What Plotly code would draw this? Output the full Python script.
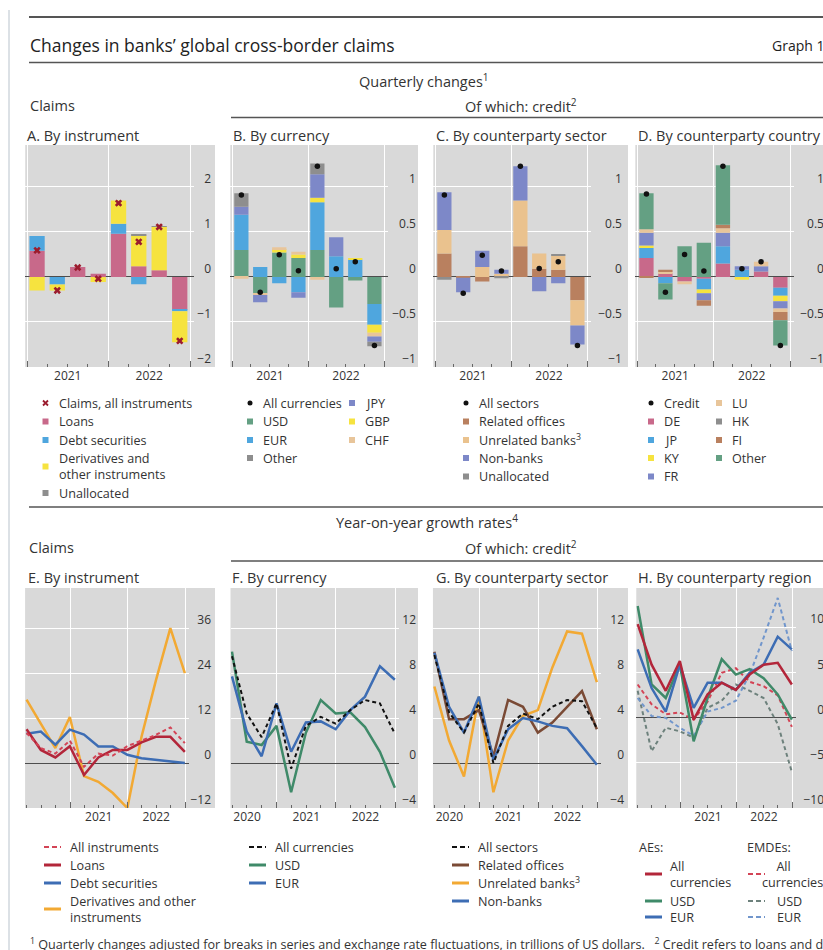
import math
import pandas as pd
import plotly.graph_objects as go

W, H = 823, 950

# ---------------- periods ----------------
bar_quarters = ["2021Q1", "2021Q2", "2021Q3", "2021Q4",
                "2022Q1", "2022Q2", "2022Q3", "2022Q4"]
line_quarters = ["2020Q1", "2020Q2", "2020Q3", "2020Q4",
                 "2021Q1", "2021Q2", "2021Q3", "2021Q4",
                 "2022Q1", "2022Q2", "2022Q3", "2022Q4"]

# ---------------- A. Claims by instrument (USD trn, quarterly change) ----------------
a_loans = [0.58, 0.00, 0.22, 0.07, 0.96, 0.24, 0.15, -0.73]
a_debt = [0.33, -0.17, 0.00, 0.00, 0.22, -0.16, 0.00, -0.03]
a_deriv = [-0.30, -0.13, 0.00, -0.11, 0.52, 0.69, 0.96, -0.69]
a_unalloc = [0.00, 0.00, 0.00, 0.00, 0.00, 0.015, 0.015, 0.00]
a_claims = [0.59, -0.30, 0.21, -0.04, 1.64, 0.78, 1.11, -1.42]

# ---------------- B. Credit by currency ----------------
b_usd = [0.30, -0.18, 0.27, 0.21, 0.30, -0.34, -0.04, -0.30]
b_eur = [0.39, 0.11, -0.07, -0.17, 0.53, 0.23, 0.19, -0.23]
b_gbp = [0.00, 0.00, 0.04, 0.04, 0.05, 0.00, 0.02, -0.09]
b_chf = [-0.02, -0.02, 0.02, 0.03, -0.03, 0.00, 0.00, -0.04]
b_jpy = [0.09, -0.08, 0.00, -0.06, 0.26, 0.21, 0.00, -0.06]
b_other = [0.15, 0.00, 0.00, 0.00, 0.12, 0.00, 0.00, -0.05]
b_all = [0.91, -0.17, 0.245, 0.07, 1.23, 0.09, 0.17, -0.76]

# ---------------- C. Credit by counterparty sector ----------------
c_related = [0.26, -0.01, -0.05, 0.02, 0.34, 0.09, 0.08, -0.26]
c_unrelated = [0.26, 0.00, 0.11, 0.015, 0.51, 0.17, 0.16, -0.28]
c_nonbanks = [0.42, -0.16, 0.18, 0.045, 0.38, -0.16, -0.07, -0.21]
c_unalloc = [-0.03, 0.00, 0.00, -0.015, 0.00, 0.00, 0.01, 0.00]
c_all = [0.91, -0.18, 0.24, 0.065, 1.23, 0.095, 0.17, -0.76]

# ---------------- D. Credit by counterparty country ----------------
d_de = [0.21, 0.04, -0.05, -0.02, 0.15, 0.00, 0.06, -0.12]
d_jp = [0.11, -0.07, 0.00, -0.12, 0.19, 0.08, 0.00, -0.09]
d_ky = [0.03, 0.00, 0.00, -0.04, 0.00, -0.03, 0.00, -0.06]
d_fr = [0.14, 0.00, 0.00, -0.08, 0.15, 0.04, 0.06, -0.08]
d_lu = [0.04, 0.02, -0.03, 0.00, 0.05, 0.00, 0.05, -0.04]
d_hk = [0.00, 0.00, 0.00, 0.00, 0.00, 0.00, 0.00, 0.00]
d_fi = [-0.01, 0.02, 0.00, -0.06, 0.04, 0.00, 0.00, -0.09]
d_other = [0.40, -0.18, 0.34, 0.38, 0.66, 0.00, 0.00, -0.28]
d_credit = [0.92, -0.17, 0.25, 0.065, 1.23, 0.09, 0.17, -0.76]

# ---------------- E. Claims by instrument, yoy growth (%) ----------------
e_all = [8.0, 4.0, 2.5, 6.0, -1.0, 2.5, 2.0, 4.5, 6.0, 7.5, 9.5, 5.3]
e_loans = [9.0, 3.5, 1.5, 4.5, -3.2, 1.5, 3.5, 3.5, 5.5, 7.0, 7.0, 3.0]
e_debt = [7.8, 8.4, 4.9, 8.9, 7.6, 4.4, 4.4, 2.2, 1.3, 0.9, 0.4, 0.0]
e_deriv = [16.9, 10.5, 4.0, 12.3, -3.5, -5.0, -8.0, -12.0, 7.0, 22.0, 36.0, 24.0]

# ---------------- F. Credit by currency, yoy growth (%) ----------------
f_all = [9.5, 4.4, 2.3, 5.3, -0.5, 3.3, 4.1, 3.5, 4.7, 5.6, 5.3, 2.6]
f_usd = [9.9, 1.9, 1.6, 3.3, -2.6, 2.7, 5.6, 4.4, 4.5, 3.2, 1.0, -2.2]
f_eur = [7.7, 2.8, 0.6, 5.3, 1.0, 3.6, 3.7, 3.0, 4.7, 5.9, 8.6, 7.4]

# ---------------- G. Credit by counterparty sector, yoy growth (%) ----------------
g_all = [9.6, 4.5, 2.7, 5.3, 0.0, 3.3, 4.4, 3.9, 5.0, 5.6, 5.5, 3.1]
g_related = [9.9, 3.9, 3.9, 4.7, 0.6, 5.6, 5.0, 2.7, 3.6, 5.0, 6.4, 3.0]
g_unrelated = [6.8, 2.0, -1.2, 5.9, -2.6, 2.0, 4.2, 4.7, 8.5, 11.7, 11.5, 7.2]
g_nonbanks = [9.8, 5.0, 2.7, 5.9, 0.3, 3.0, 4.0, 3.7, 3.3, 3.1, 1.5, -0.15]

# ---------------- H. Credit by counterparty region, yoy growth (%) ----------------
h_ae_all = [10.4, 5.9, 3.0, 6.3, -0.2, 2.6, 3.9, 3.1, 4.8, 5.9, 6.1, 3.7]
h_ae_usd = [12.4, 3.7, 2.2, 5.9, -2.6, 2.2, 6.5, 4.8, 5.4, 4.4, 2.6, -0.2]
h_ae_eur = [7.6, 3.3, 0.7, 5.9, 1.1, 3.9, 3.9, 3.1, 5.0, 5.9, 9.0, 7.6]
h_em_all = [3.7, 1.5, 0.4, 0.6, -0.2, 1.8, 5.0, 5.5, 4.0, 3.5, 2.5, -1.0]
h_em_usd = [3.0, -3.7, -1.1, -1.5, -2.2, 1.1, 1.9, 3.7, 3.0, 2.2, -0.7, -6.0]
h_em_eur = [2.2, 0.2, 0.0, -1.1, -2.0, 0.7, 1.1, 1.9, 4.8, 8.9, 13.3, 7.4]

# ---------------- colours ----------------
PINK = "#c8698a"
LBLUE = "#4fa6de"
YELLOW = "#f6e33f"
GREY = "#8e8e8e"
GREEN = "#64a083"
PERI = "#7d88c8"
TAN = "#e8c59a"
SAND = "#eac28e"
BROWN = "#b9805f"
XRED = "#9b1c2e"

RED_L = "#b3263a"
RED_D = "#d34456"
BLUE_L = "#3d6db4"
GREEN_L = "#3f8a69"
ORANGE_L = "#f2a933"
BROWN_L = "#7a4a35"
BLACK = "#111111"
EM_USD = "#6d817c"
EM_EUR = "#7196cc"

BG = "#d9d9d9"
TXT = "#333333"
RULE = "#555555"

FS_LEG = 12.6
FS_HEAD = 14.5
FS_TICK = 12
DIGIT_W = 0.572 * FS_TICK     # width of a digit / minus sign at the tick font size
POINT_W = 0.266 * FS_TICK     # width of the decimal point


def quarter_mid(q):
    p = pd.Period(q, freq="Q")
    return (p.start_time + (p.end_time - p.start_time) / 2).strftime("%Y-%m-%d %H:%M:%S")


def quarter_end(q):
    return pd.Period(q, freq="Q").end_time.normalize().strftime("%Y-%m-%d")


xb = [quarter_mid(q) for q in bar_quarters]
xl = [quarter_end(q) for q in line_quarters]
BAR_W = 0.75 * 91.3 * 24 * 3600 * 1000

fig = go.Figure()


def ax_names(k):
    return ("x" if k == 1 else f"x{k}"), ("y" if k == 1 else f"y{k}")


def bar(k, y, color):
    xa, ya = ax_names(k)
    fig.add_trace(go.Bar(x=xb, y=y, width=BAR_W, marker=dict(color=color, line=dict(width=0)),
                         xaxis=xa, yaxis=ya, showlegend=False, hoverinfo="skip"))


def dots(k, y, symbol="circle", color=BLACK, size=5.5):
    xa, ya = ax_names(k)
    fig.add_trace(go.Scatter(x=xb, y=y, mode="markers",
                             marker=dict(symbol=symbol, color=color, size=size, line=dict(width=0)),
                             xaxis=xa, yaxis=ya, showlegend=False, hoverinfo="skip"))


def line(k, y, color, dash=None, width=2.5):
    xa, ya = ax_names(k)
    fig.add_trace(go.Scatter(x=xl, y=y, mode="lines",
                             line=dict(color=color, width=width, dash=dash or "solid"),
                             xaxis=xa, yaxis=ya, showlegend=False, hoverinfo="skip"))


DASH = "4px,3px"

# A
for vals, col in [(a_loans, PINK), (a_debt, LBLUE), (a_deriv, YELLOW), (a_unalloc, GREY)]:
    bar(1, vals, col)
dots(1, a_claims, symbol="x", color=XRED, size=6.5)
# B
for vals, col in [(b_usd, GREEN), (b_eur, LBLUE), (b_gbp, YELLOW), (b_chf, TAN),
                  (b_jpy, PERI), (b_other, GREY)]:
    bar(2, vals, col)
dots(2, b_all)
# C
for vals, col in [(c_related, BROWN), (c_unrelated, SAND), (c_nonbanks, PERI), (c_unalloc, GREY)]:
    bar(3, vals, col)
dots(3, c_all)
# D
for vals, col in [(d_de, PINK), (d_jp, LBLUE), (d_ky, YELLOW), (d_fr, PERI), (d_lu, TAN),
                  (d_hk, GREY), (d_fi, BROWN), (d_other, GREEN)]:
    bar(4, vals, col)
dots(4, d_credit)
# E
line(5, e_deriv, ORANGE_L)
line(5, e_debt, BLUE_L)
line(5, e_loans, RED_L)
line(5, e_all, RED_D, dash=DASH, width=2)
# F
line(6, f_usd, GREEN_L)
line(6, f_eur, BLUE_L)
line(6, f_all, BLACK, dash=DASH, width=2)
# G
line(7, g_unrelated, ORANGE_L)
line(7, g_related, BROWN_L)
line(7, g_nonbanks, BLUE_L)
line(7, g_all, BLACK, dash=DASH, width=2)
# H
line(8, h_em_usd, EM_USD, dash=DASH, width=2)
line(8, h_em_eur, EM_EUR, dash=DASH, width=2)
line(8, h_em_all, RED_D, dash=DASH, width=2)
line(8, h_ae_usd, GREEN_L)
line(8, h_ae_eur, BLUE_L)
line(8, h_ae_all, RED_L)

# ---------------- panel geometry (pixels) ----------------
T21 = pd.Timestamp("2021-01-01")
T23 = pd.Timestamp("2023-01-01")
BAR_RANGE = ("2020-12-24", "2023-01-21")
LINE_RANGE = ("2020-03-22", "2023-01-28")
HIDE_ALL = {"2020": "", "2023": ""}
HIDE_END = {"2023": ""}

panels = [
    dict(k=1, x21=27, x23=190, right=215, lab=213, top=145, bot=367, yr=[-2, 2.93], dt=1, xr=BAR_RANGE, alias=HIDE_ALL),
    dict(k=2, x21=232, x23=384, right=418, lab=418, top=145, bot=367, yr=[-1, 1.465], dt=0.5, xr=BAR_RANGE, alias=HIDE_ALL),
    dict(k=3, x21=435, x23=587, right=628, lab=624, top=145, bot=367, yr=[-1, 1.465], dt=0.5, xr=BAR_RANGE, alias=HIDE_ALL),
    dict(k=4, x21=637, x23=790, right=830, lab=826, top=145, bot=367, yr=[-1, 1.465], dt=0.5, xr=BAR_RANGE, alias=HIDE_ALL),
    dict(k=5, x21=70, x23=185, right=215, lab=213, top=588, bot=808, yr=[-12, 46.7], dt=12, xr=LINE_RANGE, alias=HIDE_ALL),
    dict(k=6, x21=276.7, x23=395, right=418, lab=418, top=588, bot=808, yr=[-4, 15.56], dt=4, xr=LINE_RANGE, alias=HIDE_END),
    dict(k=7, x21=479, x23=597, right=628, lab=626, top=588, bot=808, yr=[-4, 15.56], dt=4, xr=LINE_RANGE, alias=HIDE_END),
    dict(k=8, x21=680, x23=792, right=830, lab=826, top=588, bot=808, yr=[-10, 14.4], dt=5, xr=LINE_RANGE, alias=HIDE_ALL),
]


def y_ticks(lo, hi, step):
    """Tick values over the range, with labels padded by figure/punctuation
    spaces so that they line up on their right-hand edge."""
    vals = [i * step for i in range(math.ceil(lo / step - 1e-9), math.floor(hi / step + 1e-9) + 1)]
    raw = [f"{v:g}".replace("-", "\u2212") for v in vals]
    units = [(sum(c != "." for c in s), s.count(".")) for s in raw]
    nd = max(u[0] for u in units)
    npnt = max(u[1] for u in units)
    text = ["\u2007" * (nd - d) + "\u2008" * (npnt - q) + s for s, (d, q) in zip(raw, units)]
    width = nd * DIGIT_W + npnt * POINT_W
    return vals, text, width


shapes = []
annotations = []
layout_axes = {}


def date_px(d, p):
    t = (pd.Timestamp(d) - T21) / (T23 - T21)
    return p["x21"] + t * (p["x23"] - p["x21"])


for p in panels:
    k = p["k"]
    xa, ya = ax_names(k)
    left = date_px(p["xr"][0], p)
    right_plot = date_px(p["xr"][1], p)
    shapes.append(dict(type="rect", xref="paper", yref="paper", layer="below",
                       x0=left / W, x1=p["right"] / W, y0=1 - p["bot"] / H, y1=1 - p["top"] / H,
                       fillcolor=BG, line=dict(width=0)))
    layout_axes["xaxis" if k == 1 else f"xaxis{k}"] = dict(
        type="date", domain=[left / W, right_plot / W], range=list(p["xr"]), anchor=ya,
        dtick="M12", tick0="2000-01-01", ticklabelmode="period", tickformat="%Y",
        labelalias=p["alias"], ticks="inside", ticklen=6, tickwidth=1, tickcolor="#666666",
        minor=dict(dtick="M3", tick0="2000-01-01", ticks="inside", ticklen=3, tickwidth=1,
                   tickcolor="#666666", showgrid=False),
        showgrid=True, gridcolor="white", gridwidth=1, showline=False, zeroline=False,
        tickfont=dict(size=12, color=TXT), fixedrange=True)
    tv, tt, tw = y_ticks(p["yr"][0], p["yr"][1], p["dt"])
    layout_axes["yaxis" if k == 1 else f"yaxis{k}"] = dict(
        domain=[1 - p["bot"] / H, 1 - p["top"] / H], range=p["yr"],
        tickmode="array", tickvals=tv, ticktext=tt,
        side="right", anchor="free", position=min(1.0, (p["lab"] - tw - 3) / W),
        ticklabelposition="outside top", ticklabeloverflow="allow",
        ticks="", showgrid=True, gridcolor="white", gridwidth=1,
        zeroline=True, zerolinecolor="#4d4d4d", zerolinewidth=1.2, showline=False,
        tickfont=dict(size=FS_TICK, color=TXT), fixedrange=True)


def text(x, y, s, size=FS_LEG, anchor="left", color=TXT):
    annotations.append(dict(xref="paper", yref="paper", x=x / W, y=1 - y / H, text=s,
                            showarrow=False, xanchor=anchor, yanchor="middle", align="left",
                            font=dict(size=size, color=color)))


def rule(x0, x1, y, width=1.5, color=RULE):
    shapes.append(dict(type="line", xref="paper", yref="paper", x0=x0 / W, x1=x1 / W,
                       y0=1 - y / H, y1=1 - y / H, line=dict(color=color, width=width)))


def swatch(kind, x, y, color):
    if kind == "sq":
        shapes.append(dict(type="rect", xref="paper", yref="paper", x0=(x - 3) / W, x1=(x + 3) / W,
                           y0=1 - (y + 3) / H, y1=1 - (y - 3) / H, fillcolor=color, line=dict(width=0)))
    elif kind == "dot":
        shapes.append(dict(type="circle", xref="paper", yref="paper", x0=(x - 2.5) / W, x1=(x + 2.5) / W,
                           y0=1 - (y + 2.5) / H, y1=1 - (y - 2.5) / H, fillcolor=color, line=dict(width=0)))
    elif kind == "x":
        d = 2.5
        path = (f"M{(x - d) / W},{1 - (y - d) / H} L{(x + d) / W},{1 - (y + d) / H} "
                f"M{(x - d) / W},{1 - (y + d) / H} L{(x + d) / W},{1 - (y - d) / H}")
        shapes.append(dict(type="path", xref="paper", yref="paper", path=path,
                           line=dict(color=color, width=1.8)))
    elif kind in ("line", "dash"):
        shapes.append(dict(type="line", xref="paper", yref="paper", x0=x / W, x1=(x + 17) / W,
                           y0=1 - y / H, y1=1 - y / H,
                           line=dict(color=color, width=3 if kind == "line" else 2.2,
                                     dash="solid" if kind == "line" else "5px,3px")))


def legend(mx, tx, entries):
    for kind, color, label, y in entries:
        swatch(kind, mx, y, color)
        text(tx, y, label)


# ---------------- frame and headings ----------------
shapes.append(dict(type="line", xref="paper", yref="paper", x0=9 / W, x1=9 / W, y0=0, y1=1 - 10 / H,
                   line=dict(color="#b9c3cc", width=1)))
rule(29, 823, 17, width=2)
rule(29, 823, 62.5)
rule(231, 823, 117.5)
rule(29, 823, 507)
rule(231, 823, 561)

text(28, 45, "Changes in banks’ global cross-border claims", size=17.5, color="#222222")
text(826, 45, "Graph 1", size=14, anchor="right", color="#222222")
text(424, 80, "Quarterly changes<sup>1</sup>", size=FS_HEAD, anchor="center")
text(28, 106, "Claims", size=FS_HEAD)
text(521, 106, "Of which: credit<sup>2</sup>", size=FS_HEAD, anchor="center")
text(427, 521, "Year-on-year growth rates<sup>4</sup>", size=FS_HEAD, anchor="center")
text(27, 547, "Claims", size=FS_HEAD)
text(521, 547, "Of which: credit<sup>2</sup>", size=FS_HEAD, anchor="center")

for x, y, s in [(25, 135, "A. By instrument"), (231, 135, "B. By currency"),
                (434, 135, "C. By counterparty sector"), (636, 135, "D. By counterparty country"),
                (26, 577, "E. By instrument"), (230, 577, "F. By currency"),
                (434, 577, "G. By counterparty sector"), (636, 577, "H. By counterparty region")]:
    text(x, y, s, size=FS_HEAD)

# ---------------- legends ----------------
R = [403, 421.5, 440, 458, 475, 493]
legend(45.5, 57, [
    ("x", XRED, "Claims, all instruments", R[0]),
    ("sq", PINK, "Loans", R[1]),
    ("sq", LBLUE, "Debt securities", R[2]),
    ("sq", YELLOW, "Derivatives and<br>other instruments", (R[3] + R[4]) / 2),
    ("sq", GREY, "Unallocated", R[5]),
])
legend(250, 261, [
    ("dot", BLACK, "All currencies", R[0]),
    ("sq", GREEN, "USD", R[1]),
    ("sq", LBLUE, "EUR", R[2]),
    ("sq", GREY, "Other", R[3]),
])
legend(352, 363, [
    ("sq", PERI, "JPY", R[0]),
    ("sq", YELLOW, "GBP", R[1]),
    ("sq", TAN, "CHF", R[2]),
])
R5 = [403, 421.5, 440, 458, 476.5]
legend(466, 477, [
    ("dot", BLACK, "All sectors", R5[0]),
    ("sq", BROWN, "Related offices", R5[1]),
    ("sq", SAND, "Unrelated banks<sup>3</sup>", R5[2]),
    ("sq", PERI, "Non-banks", R5[3]),
    ("sq", GREY, "Unallocated", R5[4]),
])
legend(651, 662, [
    ("dot", BLACK, "Credit", R5[0]),
    ("sq", PINK, "DE", R5[1]),
    ("sq", LBLUE, "JP", R5[2]),
    ("sq", YELLOW, "KY", R5[3]),
    ("sq", PERI, "FR", R5[4]),
])
legend(719, 730, [
    ("sq", TAN, "LU", R5[0]),
    ("sq", GREY, "HK", R5[1]),
    ("sq", BROWN, "FI", R5[2]),
    ("sq", GREEN, "Other", R5[3]),
])

S = [847, 865, 883, 901, 917]
legend(44, 68, [
    ("dash", RED_D, "All instruments", S[0]),
    ("line", RED_L, "Loans", S[1]),
    ("line", BLUE_L, "Debt securities", S[2]),
    ("line", ORANGE_L, "Derivatives and other<br>instruments", (S[3] + S[4]) / 2),
])
legend(249, 273, [
    ("dash", BLACK, "All currencies", S[0]),
    ("line", GREEN_L, "USD", S[1]),
    ("line", BLUE_L, "EUR", S[2]),
])
legend(452, 476, [
    ("dash", BLACK, "All sectors", S[0]),
    ("line", BROWN_L, "Related offices", S[1]),
    ("line", ORANGE_L, "Unrelated banks<sup>3</sup>", S[2]),
    ("line", BLUE_L, "Non-banks", S[3]),
])
text(637, S[0], "AEs:")
text(745, S[0], "EMDEs:")
legend(645, 668, [
    ("line", RED_L, "All<br>currencies", (S[1] + S[2]) / 2),
    ("line", GREEN_L, "USD", S[3]),
    ("line", BLUE_L, "EUR", S[4]),
])
swatch("dash", 748, (S[1] + S[2]) / 2, RED_D)
text(760, (S[1] + S[2]) / 2, "\u2007\u2007All<br>currencies")
legend(748, 775, [
    ("dash", EM_USD, "USD", S[3]),
    ("dash", EM_EUR, "EUR", S[4]),
])

text(28, 944, "<sup>1</sup> Quarterly changes adjusted for breaks in series and exchange rate fluctuations, "
              "in trillions of US dollars.   <sup>2</sup> Credit refers to loans and deposits.",
     size=12.6)

fig.update_layout(
    width=W, height=H, margin=dict(l=0, r=0, t=0, b=0),
    paper_bgcolor="white", plot_bgcolor="rgba(0,0,0,0)",
    barmode="relative", showlegend=False,
    font=dict(family="Open Sans, Noto Sans, DejaVu Sans, sans-serif", size=12, color=TXT),
    shapes=shapes, annotations=annotations, **layout_axes,
)

fig.write_html("out.html")
